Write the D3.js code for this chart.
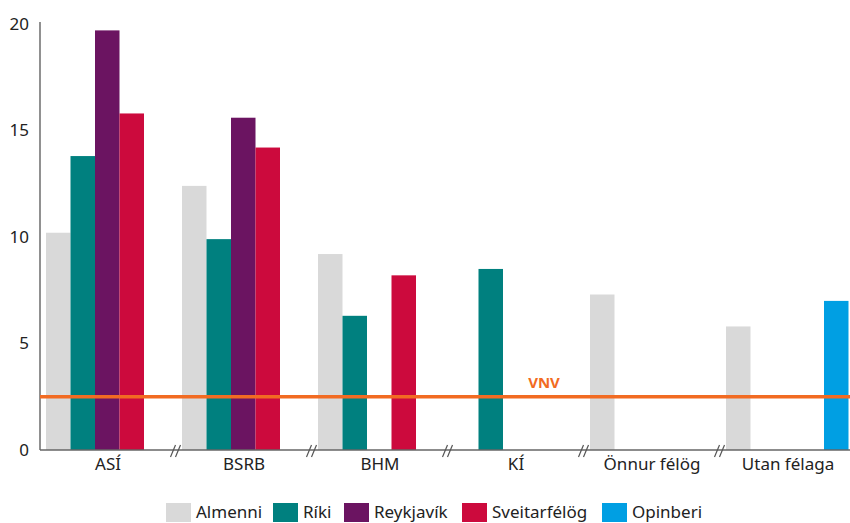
<!DOCTYPE html>
<html><head><meta charset="utf-8">
<script src="https://cdn.jsdelivr.net/npm/d3@7"></script>
<style>body{margin:0;background:#fff}text{font-family:"Noto Sans",sans-serif}</style>
</head><body><svg id="c" width="850" height="523"></svg>
<script>
const groups = ["ASÍ","BSRB","BHM","KÍ","Önnur félög","Utan félaga"];
const seriesNames = ["Almenni","Ríki","Reykjavík","Sveitarfélög","Opinberi"];
const seriesColors = ["#d9d9d9","#00807f","#6b1461","#cc0a3d","#009fe3"];
const almenni     = [10.2, 12.4, 9.2, null, 7.3, 5.8];
const riki        = [13.8,  9.9, 6.3,  8.5, null, null];
const reykjavik   = [19.7, 15.6, null, null, null, null];
const sveitarfelog= [15.8, 14.2, 8.2, null, null, null];
const opinberi    = [null, null, null, null, null, 7.0];
const yTicks = [0,5,10,15,20];
const vnvValue = 2.5;
const vnvLabel = "VNV";

const values = [almenni, riki, reykjavik, sveitarfelog, opinberi];
const svg = d3.select("#c");
const x0 = d3.scaleBand().domain(groups).range([40, 856]);
const x1 = d3.scaleBand().domain(seriesNames).range([6, 128.5]);
const y = d3.scaleLinear().domain([0,20]).range([450, 24]);

// bars
seriesNames.forEach((s, si) => {
  const data = groups.map((g, gi) => ({g, v: values[si][gi]})).filter(d => d.v != null);
  svg.append("g").selectAll("rect").data(data).join("rect")
    .attr("x", d => x0(d.g) + x1(s))
    .attr("width", x1.bandwidth())
    .attr("y", d => y(d.v))
    .attr("height", d => y(0) - y(d.v))
    .attr("fill", seriesColors[si]);
});

// y axis
const yAxis = d3.axisLeft(y).tickValues(yTicks).tickSize(0).tickPadding(11);
const ga = svg.append("g").attr("transform","translate(40,0)").call(yAxis);
ga.select(".domain").attr("stroke","#555").attr("stroke-width",1.3).attr("d","M0,22V450");
ga.selectAll("text").attr("font-size",17).attr("fill","#222").attr("font-family","Noto Sans");

// x axis
const xAxis = d3.axisBottom(x0).tickSize(0).tickPadding(8);
const gx = svg.append("g").attr("transform","translate(0,450)").call(xAxis);
gx.select(".domain").attr("stroke","#666").attr("stroke-width",1.5).attr("d","M40,0H850");
gx.selectAll("text").attr("font-size",17).attr("fill","#222").attr("font-family","Noto Sans");

// break marks
groups.slice(1).forEach(g => {
  const bx = x0(g);
  [-3, 2].forEach(o => {
    svg.append("line").attr("x1", bx+o-2.5).attr("y1", 457).attr("x2", bx+o+2.5).attr("y2", 445)
      .attr("stroke","#555").attr("stroke-width",1.2);
  });
});

// VNV line
svg.append("line").attr("x1",40).attr("x2",850).attr("y1",y(vnvValue)).attr("y2",y(vnvValue))
  .attr("stroke","#f26b22").attr("stroke-width",3.5);
svg.append("text").attr("x",544).attr("y",y(vnvValue)-9).attr("text-anchor","middle")
  .attr("font-size",15).attr("font-weight","bold").attr("fill","#f26b22").text(vnvLabel);

// legend
const legX = [166, 273, 344, 462, 602];
const lg = svg.append("g");
seriesNames.forEach((s, i) => {
  lg.append("rect").attr("x", legX[i]).attr("y", 503).attr("width", 25).attr("height", 19).attr("fill", seriesColors[i]);
  lg.append("text").attr("x", legX[i]+30).attr("y", 518).attr("font-size",17).attr("fill","#222").text(s);
});
</script></body></html>
